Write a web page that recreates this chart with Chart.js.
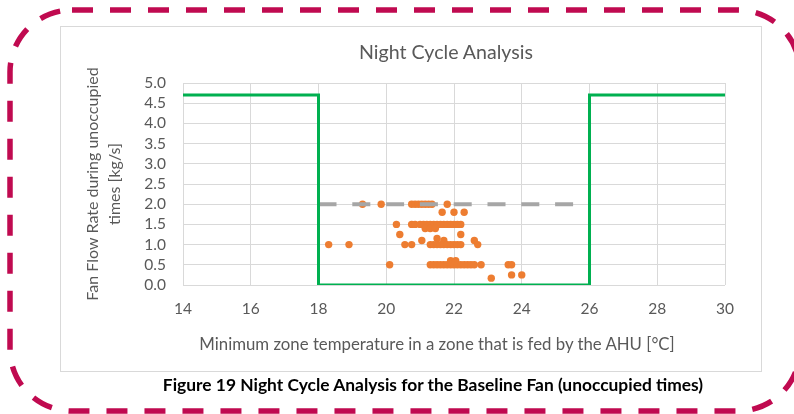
<!DOCTYPE html>
<html lang="en">
<head>
    <meta charset="UTF-8">
    <title>Night Cycle Analysis</title>
    <script src="https://cdn.jsdelivr.net/npm/chart.js"></script>
    <style>
        body { margin: 0; background: #fff; }
        .wrap { position: relative; width: 794px; height: 414px; overflow: hidden; }
        canvas { position: absolute; left: 0; top: 0; }
        .chart-title {
            position: absolute; left: 296px; top: 40px; width: 300px; height: 24px;
            line-height: 24px; text-align: center;
            font-family: Lato, sans-serif; font-size: 19.6px; color: #595959;
        }
        .x-title {
            position: absolute; left: 137px; top: 332px; width: 600px; height: 24px;
            line-height: 24px; text-align: center;
            font-family: Lato, sans-serif; font-size: 16.8px; color: #595959;
        }
        .caption {
            position: absolute; left: 83px; top: 375px; width: 700px; height: 20px;
            line-height: 20px; text-align: center;
            font-family: Lato, sans-serif; font-size: 17.4px; font-weight: bold; color: #000;
        }
    </style>
</head>
<body>
    <div class="wrap">
        <canvas id="nightChart" width="794" height="414"></canvas>
        <div class="chart-title">Night Cycle Analysis</div>
        <div class="x-title" id="xTitle"></div>
        <div class="caption">Figure 19 Night Cycle Analysis for the Baseline Fan (unoccupied times)</div>
    </div>

    <script>
        // occupied / unoccupied fan flow limits (green step line)
        const limitTemps = [14, 18, 18, 26, 26, 30];
        const limitFlows = [4.7, 4.7, 0, 0, 4.7, 4.7];

        // night cycle design flow (grey dashed)
        const designTemps = [18, 26];
        const designFlows = [2.0, 2.0];

        // measured unoccupied samples (orange dots)
        const sampleTemps = [
            19.3, 19.85, 20.75, 20.85, 20.95, 21.05, 21.15, 21.25, 21.35, 21.8,
            21.65, 22.0, 22.3,
            20.3, 20.75, 20.85, 21.0, 21.1, 21.2, 21.3, 21.4, 21.5, 21.6, 21.7, 21.8, 21.9, 22.0, 22.1, 22.2,
            21.15, 21.3, 21.45,
            20.4, 22.2,
            21.05, 21.5, 21.7, 22.6,
            18.3, 18.9, 20.55, 20.75, 21.3, 21.4, 21.5, 21.6, 21.7, 21.8, 21.9, 22.0, 22.1, 22.2, 22.7,
            21.9, 22.05,
            20.1, 21.3, 21.4, 21.5, 21.6, 21.7, 21.8, 21.9, 22.0, 22.1, 22.2, 22.3, 22.4, 22.5, 22.6, 22.8, 23.6, 23.7,
            23.1, 23.7, 24.0
        ];
        const sampleFlows = [
            2.0, 2.0, 2.0, 2.0, 2.0, 2.0, 2.0, 2.0, 2.0, 2.0,
            1.8, 1.8, 1.8,
            1.5, 1.5, 1.5, 1.5, 1.5, 1.5, 1.5, 1.5, 1.5, 1.5, 1.5, 1.5, 1.5, 1.5, 1.5, 1.5,
            1.4, 1.4, 1.4,
            1.25, 1.25,
            1.1, 1.15, 1.1, 1.1,
            1.0, 1.0, 1.0, 1.0, 1.0, 1.0, 1.0, 1.0, 1.0, 1.0, 1.0, 1.0, 1.0, 1.0, 1.0,
            0.6, 0.6,
            0.5, 0.5, 0.5, 0.5, 0.5, 0.5, 0.5, 0.5, 0.5, 0.5, 0.5, 0.5, 0.5, 0.5, 0.5, 0.5, 0.5, 0.5,
            0.17, 0.25, 0.25
        ];

        const xTitle = 'Minimum zone temperature in a zone that is fed by the AHU [°C]';
        const yTitle = ['Fan Flow Rate during unoccupied', 'times [kg/s]'];

        document.getElementById('xTitle').textContent = xTitle;

        const toPoints = (xs, ys) => xs.map((x, i) => ({ x: x, y: ys[i] }));

        // chart frame + dashed report border
        const framePlugin = {
            id: 'frame',
            beforeDraw(chart) {
                const c = chart.ctx;
                c.save();
                c.fillStyle = '#fff';
                c.fillRect(0, 0, chart.width, chart.height);
                c.strokeStyle = '#d9d9d9';
                c.lineWidth = 1;
                c.strokeRect(60.5, 26.5, 701, 345);
                c.strokeStyle = '#c00a50';
                c.lineWidth = 5.5;
                c.setLineDash([21, 17]);
                c.beginPath();
                c.roundRect(10, 10, 790, 401, 62);
                c.stroke();
                c.restore();
            }
        };

        const grey = '#595959';
        const ctx = document.getElementById('nightChart').getContext('2d');

        new Chart(ctx, {
            type: 'scatter',
            data: {
                datasets: [{
                    data: toPoints(limitTemps, limitFlows),
                    showLine: true,
                    borderColor: '#00b050',
                    borderWidth: 3,
                    pointRadius: 0,
                    tension: 0
                }, {
                    data: toPoints(designTemps, designFlows),
                    showLine: true,
                    borderColor: '#a6a6a6',
                    borderWidth: 4,
                    borderDash: [18, 15.8],
                    pointRadius: 0
                }, {
                    data: toPoints(sampleTemps, sampleFlows),
                    backgroundColor: '#ed7d31',
                    borderWidth: 0,
                    pointRadius: 3.7
                }]
            },
            options: {
                responsive: false,
                animation: false,
                layout: { padding: { left: 70, right: 69, top: 83, bottom: 54 } },
                scales: {
                    x: {
                        type: 'linear',
                        min: 14,
                        max: 30,
                        afterFit: s => { s.height = 75; },
                        grid: { color: '#d9d9d9', drawTicks: false },
                        border: { display: false },
                        ticks: {
                            stepSize: 2,
                            padding: 15,
                            color: grey,
                            font: { family: 'Lato', size: 15.5 }
                        }
                    },
                    y: {
                        min: 0,
                        max: 5,
                        afterFit: s => { s.width = 113; },
                        grid: { color: '#d9d9d9', drawTicks: false },
                        border: { display: false },
                        ticks: {
                            stepSize: 0.5,
                            autoSkip: false,
                            padding: 17,
                            color: grey,
                            font: { family: 'Lato', size: 15.5 },
                            callback: v => v.toFixed(1)
                        },
                        title: {
                            display: true,
                            text: yTitle,
                            color: grey,
                            padding: { top: 11.5, bottom: 0 },
                            font: { family: 'Lato', size: 16, lineHeight: 1.406 }
                        }
                    }
                },
                plugins: {
                    legend: { display: false },
                    tooltip: { enabled: false }
                }
            },
            plugins: [framePlugin]
        });
    </script>
</body>
</html>
